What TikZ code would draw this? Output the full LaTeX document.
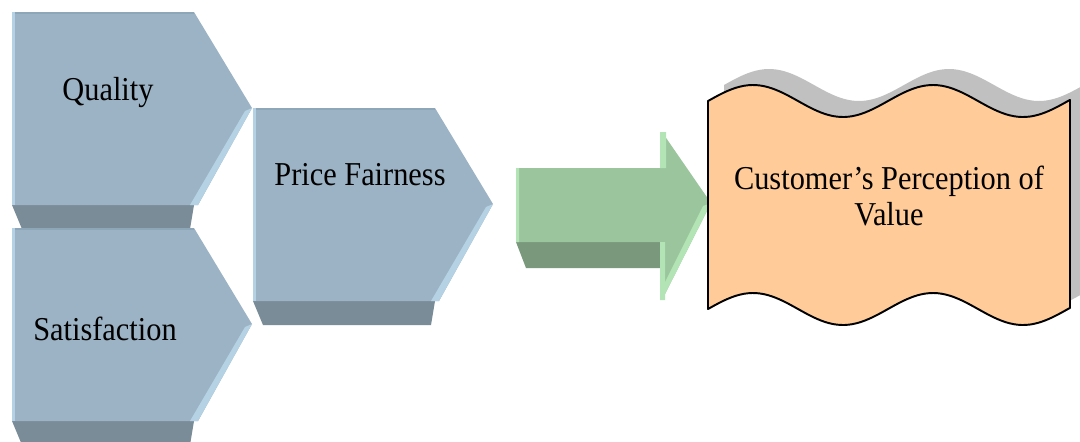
\documentclass[tikz,border=0pt]{standalone}
\usepackage{fontspec}
\setmainfont{Liberation Serif}[FakeStretch=0.91]
\definecolor{chevface}{HTML}{9BB3C4}
\definecolor{chevdark}{HTML}{7A8C98}
\definecolor{chevlight}{HTML}{B4D2E4}
\definecolor{chevtop}{HTML}{8EA7B8}
\definecolor{arrface}{HTML}{9BC59D}
\definecolor{arrdark}{HTML}{7A987C}
\definecolor{arrlight}{HTML}{B3E4B5}
\definecolor{waveface}{HTML}{FFCC99}
\definecolor{waveshadow}{HTML}{C0C0C0}
\begin{document}
\begin{tikzpicture}[x=0.02cm,y=-0.02cm,font=\fontsize{19}{20.4}\selectfont,line join=round]
\useasboundingbox (0,0) rectangle (1080,441);
\clip (0,0) rectangle (1080,441);
\foreach \cx/\cy in {12/12,12/228,253/108}{
\fill[chevdark] (\cx,\cy+193)--(\cx+182,\cy+193)--(\cx+178,\cy+217)--(\cx+10,\cy+217)--cycle;
\fill[chevface] (\cx,\cy)--(\cx+182,\cy)--(\cx+240,\cy+96)--(\cx+186,\cy+193)--(\cx,\cy+193)--cycle;
\fill[chevlight] (\cx+240,\cy+96)--(\cx+186,\cy+193)--(\cx+178,\cy+193)--(\cx+233,\cy+99)--cycle;
\fill[chevlight] (\cx,\cy) rectangle (\cx+3,\cy+193);
\fill[chevtop] (\cx+3,\cy) rectangle (\cx+182,\cy+2);
}
\fill[arrdark] (516,242)--(662,242)--(662,268)--(526,268)--cycle;
\fill[arrface] (516,168)--(662,168)--(662,132)--(711,203)--(662,300)--(662,242)--(516,242)--cycle;
\fill[arrlight] (711,203)--(662,300)--(662,288)--(703,206)--cycle;
\fill[arrlight] (660,132) rectangle (666,168) (660,242) rectangle (665,300) (516,168) rectangle (519,242);
\fill[waveshadow] plot[smooth,domain=724:1086,samples=91] (\x,{85-16*sin(2*(\x-724))})
  -- plot[smooth,domain=1086:724,samples=91] (\x,{293-16*sin(2*(\x-724))}) -- cycle;
\draw[fill=waveface,line width=1.1pt] plot[smooth,domain=708:1070,samples=91] (\x,{101-16*sin(2*(\x-708))})
  -- plot[smooth,domain=1070:708,samples=91] (\x,{309-16*sin(2*(\x-708))}) -- cycle;
\node[anchor=base] (quality) at (108,100) {Quality};
\node[anchor=base] (satisfaction) at (105,340) {Satisfaction};
\node[anchor=base] (price) at (360,185) {Price Fairness};
\node[align=center] (value) at (889,196) {Customer's Perception of\\Value};
\end{tikzpicture}
\end{document}
